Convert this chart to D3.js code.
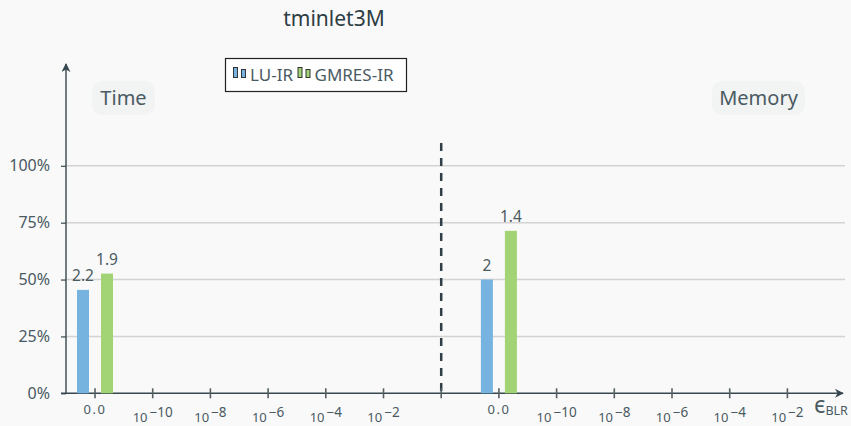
<!DOCTYPE html>
<html>
<head>
<meta charset="utf-8">
<script src="https://cdn.jsdelivr.net/npm/d3@7/dist/d3.min.js"></script>
<style>
  html, body { margin: 0; padding: 0; background: #f9f9f9; }
  svg { display: block; font-family: "Noto Sans", "Open Sans", sans-serif; }
</style>
</head>
<body>
<svg id="chart" width="851" height="426"></svg>
<script>
// Data: speedup ratios per panel; bar height is the relative cost (1 / ratio)
const panels = ["Time", "Memory"];
const methods = ["LU-IR", "GMRES-IR"];
const luRatios = [2.2, 2.0];
const gmresRatios = [1.9, 1.4];
const ratioLabels = [["2.2", "1.9"], ["2", "1.4"]];
const epsLabels = ["0.0", "-10", "-8", "-6", "-4", "-2"];
const yTicks = [0, 0.25, 0.5, 0.75, 1];
const colors = { "LU-IR": "#76b4df", "GMRES-IR": "#a2d375" };

const svg = d3.select("#chart");
const ink = "#37474f";
const textInk = "#4a5a62";

// Slot positions: 6 eps ticks for each panel, with a divider slot between them
const slots = d3.range(13);
const x = d3.scalePoint().domain(slots).range([95, 787.4]);
const y = d3.scaleLinear().domain([0, 1]).range([393.3, 165.8]);

const axisLeft = 66, axisRight = 845, axisBottom = y(0);

// Title
svg.append("text").attr("x", 334).attr("y", 26).attr("text-anchor", "middle")
  .attr("font-size", 21).attr("fill", "#2e3d44").text("tminlet3M");

// Gridlines
svg.append("g").selectAll("line").data(yTicks.filter(d => d > 0)).join("line")
  .attr("x1", axisLeft).attr("x2", axisRight)
  .attr("y1", d => y(d)).attr("y2", d => y(d))
  .attr("stroke", "#d3d3d3").attr("stroke-width", 1.5);

// Y axis with percent ticks
const yAxis = d3.axisLeft(y).tickValues(yTicks).tickFormat(d3.format(".0%"))
  .tickSize(5).tickPadding(11);
const yg = svg.append("g").attr("transform", `translate(${axisLeft},0)`).call(yAxis);
yg.select(".domain").remove();
yg.selectAll(".tick line").attr("stroke", ink).attr("stroke-width", 1.2);
yg.selectAll(".tick text").attr("font-size", 16).attr("fill", textInk)
  .attr("font-family", "Noto Sans");

// Arrowheads
const defs = svg.append("defs");
defs.append("marker").attr("id", "arrow").attr("viewBox", "0 0 10 10")
  .attr("refX", 9).attr("refY", 5).attr("markerWidth", 9).attr("markerHeight", 9)
  .attr("markerUnits", "userSpaceOnUse").attr("orient", "auto")
  .append("path").attr("d", "M0,0 L10,5 L0,10 L3,5 Z").attr("fill", ink);

// Axis lines
svg.append("line").attr("x1", axisLeft).attr("x2", axisLeft)
  .attr("y1", axisBottom).attr("y2", 64)
  .attr("stroke", ink).attr("stroke-width", 1.4).attr("marker-end", "url(#arrow)");
svg.append("line").attr("x1", 61).attr("x2", 843)
  .attr("y1", axisBottom).attr("y2", axisBottom)
  .attr("stroke", ink).attr("stroke-width", 1.4).attr("marker-end", "url(#arrow)");

// Divider between panels
svg.append("line").attr("x1", x(6)).attr("x2", x(6))
  .attr("y1", 143).attr("y2", axisBottom)
  .attr("stroke", "#2f3f45").attr("stroke-width", 2.5).attr("stroke-dasharray", "8,7");

// X ticks and labels
const tickSlots = slots.filter(s => s !== 6);
svg.append("g").selectAll("line").data(slots).join("line")
  .attr("x1", d => x(d)).attr("x2", d => x(d))
  .attr("y1", axisBottom - 5).attr("y2", axisBottom + 5)
  .attr("stroke", "#555f63").attr("stroke-width", 1.6);

const xl = svg.append("g").selectAll("text").data(tickSlots).join("text")
  .attr("x", d => x(d)).attr("y", 422).attr("text-anchor", "middle")
  .attr("font-size", 13).attr("fill", textInk);
xl.each(function(d) {
  const lab = epsLabels[d < 6 ? d : d - 7];
  const t = d3.select(this);
  if (lab === "0.0") {
    t.attr("y", 413.5).attr("letter-spacing", 1.5).text(lab);
  } else {
    t.append("tspan").text("10");
    t.append("tspan").attr("dx", 2).attr("dy", -5.5).attr("font-size", 13.5)
      .text("\u2212" + lab.slice(1));
  }
});

// Axis name
const eps = svg.append("text").attr("x", 814).attr("y", 413).attr("fill", textInk);
eps.append("tspan").attr("font-size", 23).text("\u03f5");
eps.append("tspan").attr("font-size", 12.5).attr("dy", 2).text("BLR");

// Bars
const bars = [];
panels.forEach((p, i) => {
  const base = i === 0 ? 0 : 7;
  bars.push({ m: "LU-IR", slot: base, off: -18, r: luRatios[i], lab: ratioLabels[i][0] });
  bars.push({ m: "GMRES-IR", slot: base, off: 6, r: gmresRatios[i], lab: ratioLabels[i][1] });
});
svg.append("g").selectAll("rect").data(bars).join("rect")
  .attr("x", d => x(d.slot) + d.off).attr("width", 12)
  .attr("y", d => y(1 / d.r)).attr("height", d => y(0) - y(1 / d.r))
  .attr("fill", d => colors[d.m]);
svg.append("g").selectAll("text").data(bars).join("text")
  .attr("x", d => x(d.slot) + d.off + 6).attr("y", d => y(1 / d.r) - 9)
  .attr("text-anchor", "middle").attr("font-size", 15.5).attr("fill", textInk)
  .text(d => d.lab);

// Panel labels
function panelLabel(text, cx, cy, w) {
  svg.append("rect").attr("x", cx - w / 2).attr("y", cy - 17).attr("width", w).attr("height", 34)
    .attr("rx", 10).attr("fill", "#f2f3f3");
  svg.append("text").attr("x", cx).attr("y", cy + 7).attr("text-anchor", "middle")
    .attr("font-size", 20).attr("fill", textInk).text(text);
}
panelLabel(panels[0], 123.5, 98, 63);
panelLabel(panels[1], 758.5, 98, 93);

// Legend
const lg = svg.append("g");
lg.append("rect").attr("x", 225.5).attr("y", 58.5).attr("width", 181).attr("height", 33)
  .attr("fill", "#ffffff").attr("stroke", "#222").attr("stroke-width", 1.2);
const legendX = [233, 297.5];
methods.forEach((m, i) => {
  const lx = legendX[i];
  lg.append("rect").attr("x", lx + 0.5).attr("y", 67.5).attr("width", 4).attr("height", 10)
    .attr("fill", colors[m]).attr("stroke", "#333").attr("stroke-width", 1);
  lg.append("rect").attr("x", lx + 8.5).attr("y", 69.5).attr("width", 4).attr("height", 8)
    .attr("fill", colors[m]).attr("stroke", "#333").attr("stroke-width", 1);
  lg.append("text").attr("x", lx + 17).attr("y", 80.5).attr("font-size", 17)
    .attr("fill", textInk).text(m);
});
</script>
</body>
</html>
